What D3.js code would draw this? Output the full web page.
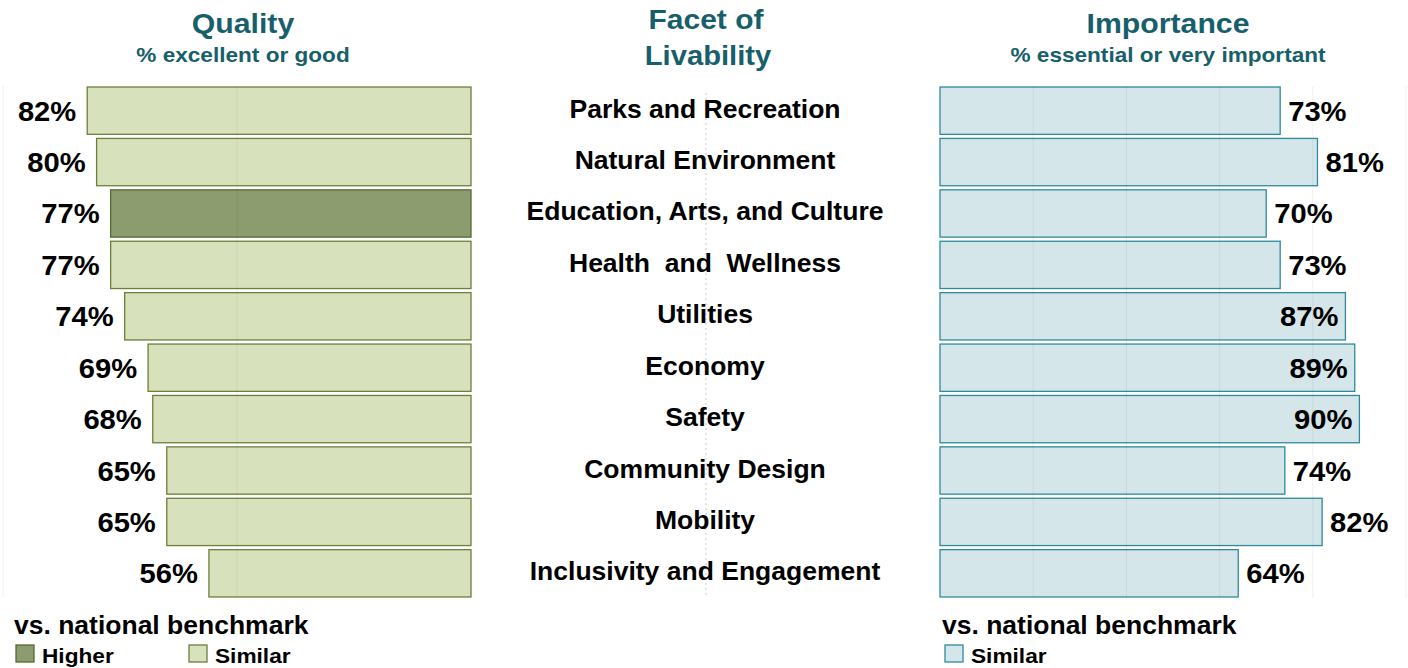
<!DOCTYPE html>
<html>
<head>
<meta charset="utf-8">
<script src="https://cdn.jsdelivr.net/npm/d3@7"></script>
<style>
  body { margin: 0; background: #fff; }
  text { font-family: "Liberation Sans", Arial, sans-serif; font-weight: bold; }
</style>
</head>
<body>
<div id="chart"></div>
<script>
const facets = ["Parks and Recreation", "Natural Environment", "Education, Arts, and Culture",
    "Health  and  Wellness", "Utilities", "Economy", "Safety", "Community Design",
    "Mobility", "Inclusivity and Engagement"];
const quality = [82, 80, 77, 77, 74, 69, 68, 65, 65, 56];
const qualityBenchmark = ["Similar", "Similar", "Higher", "Similar", "Similar",
    "Similar", "Similar", "Similar", "Similar", "Similar"];
const importance = [73, 81, 70, 73, 87, 89, 90, 74, 82, 64];
const qualityGrid = [50, 100];
const importanceGrid = [20, 40, 60, 80, 100];

const width = 1408, height = 668;
const teal = "#17606b";
const svg = d3.select("#chart").append("svg")
    .attr("width", width)
    .attr("height", height);

const y = d3.scaleBand().domain(facets).range([86, 598]).paddingInner(0.08).paddingOuter(0.02);
const xQ = d3.scaleLinear().domain([0, 100]).range([471, 3]);
const xI = d3.scaleLinear().domain([0, 100]).range([940, 1406]);

// text with a bit of horizontal stretch (the original is wider than Arial)
function label(g, x, yy, str, size, sx, anchor, fill) {
    return g.append("text")
        .attr("transform", `translate(${x},${yy}) scale(${sx},1)`)
        .attr("text-anchor", anchor || "start")
        .attr("fill", fill || "#000")
        .attr("xml:space", "preserve")
        .style("font-size", size + "px")
        .text(str);
}

// headers
label(svg, 243, 33, "Quality", 27, 1.12, "middle", teal);
label(svg, 243, 62, "% excellent or good", 20, 1.13, "middle", teal);
label(svg, 706, 29, "Facet of", 27, 1.11, "middle", teal);
label(svg, 708, 65, "Livability", 27, 1.08, "middle", teal);
label(svg, 1168, 33, "Importance", 27, 1.12, "middle", teal);
label(svg, 1168, 62, "% essential or very important", 20, 1.13, "middle", teal);

// middle dotted line
svg.append("line").attr("x1", 706).attr("x2", 706).attr("y1", 93).attr("y2", 598)
    .attr("stroke", "#c8c8c8").attr("stroke-width", 1).attr("stroke-dasharray", "2,3");

// quality bars
const qColors = { Higher: ["#8c9c6f", "#556b2f"], Similar: ["#d7e2bc", "#6b7f3a"] };
svg.append("g").selectAll("rect").data(quality).join("rect")
    .attr("x", d => xQ(d)).attr("y", (d, i) => y(facets[i]))
    .attr("width", d => xQ(0) - xQ(d)).attr("height", y.bandwidth())
    .attr("fill", (d, i) => qColors[qualityBenchmark[i]][0])
    .attr("stroke", (d, i) => qColors[qualityBenchmark[i]][1])
    .attr("stroke-width", 1.3);

const qLab = svg.append("g");
quality.forEach((d, i) => {
    label(qLab, xQ(d) - 11, y(facets[i]) + y.bandwidth() / 2 + 10, d + "%", 27, 1.08, "end");
});

// importance bars
svg.append("g").selectAll("rect").data(importance).join("rect")
    .attr("x", xI(0)).attr("y", (d, i) => y(facets[i]))
    .attr("width", d => xI(d) - xI(0)).attr("height", y.bandwidth())
    .attr("fill", "#d5e6ea").attr("stroke", "#2e8a9c").attr("stroke-width", 1.3);

const iLab = svg.append("g");
importance.forEach((d, i) => {
    const inside = d >= 85;
    label(iLab, inside ? xI(d) - 7 : xI(d) + 8, y(facets[i]) + y.bandwidth() / 2 + 10,
        d + "%", 27, 1.08, inside ? "end" : "start");
});

// faint gridlines
svg.append("g").selectAll("line").data(qualityGrid).join("line")
    .attr("x1", d => xQ(d)).attr("x2", d => xQ(d)).attr("y1", 86).attr("y2", 598)
    .attr("stroke", "#000").attr("stroke-opacity", 0.06);
svg.append("g").selectAll("line").data(importanceGrid).join("line")
    .attr("x1", d => xI(d)).attr("x2", d => xI(d)).attr("y1", 86).attr("y2", 598)
    .attr("stroke", "#000").attr("stroke-opacity", 0.06);

// category labels
const cLab = svg.append("g");
facets.forEach(f => {
    label(cLab, 705, y(f) + y.bandwidth() / 2 + 7, f, 26, 1.02, "middle");
});

// legends
function legend(x, items) {
    label(svg, x, 634, "vs. national benchmark", 25, 1.06, "start");
    items.forEach(it => {
        svg.append("rect").attr("x", it.x).attr("y", 645).attr("width", 18).attr("height", 17)
            .attr("fill", it.fill).attr("stroke", it.stroke).attr("stroke-width", 1.3);
        label(svg, it.x + 26, 663, it.label, 21, 1.08, "start");
    });
}
legend(14, [
    { x: 16, label: "Higher", fill: qColors.Higher[0], stroke: qColors.Higher[1] },
    { x: 189, label: "Similar", fill: qColors.Similar[0], stroke: qColors.Similar[1] }
]);
legend(942, [{ x: 945, label: "Similar", fill: "#d5e6ea", stroke: "#2e8a9c" }]);
</script>
</body>
</html>
